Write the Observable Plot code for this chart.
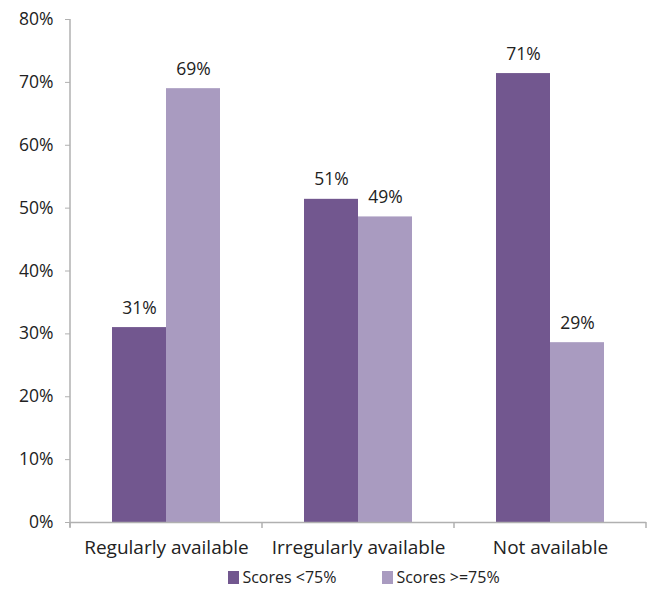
<!DOCTYPE html>
<html>
<head>
<meta charset="utf-8">
<script src="https://cdn.jsdelivr.net/npm/d3@7"></script>
<script src="https://cdn.jsdelivr.net/npm/@observablehq/plot@0.6"></script>
<style>
  body { margin: 0; background: #fff; font-family: "Open Sans", Lato, sans-serif; }
  #wrap { width: 648px; height: 592px; position: relative; }
  #legend { display: flex; justify-content: center; gap: 46px; font-size: 16px; color: #222; margin-left: 80px; margin-top: 4px; }
  #legend span.sw { display: inline-block; width: 11px; height: 13px; margin-right: 3px; vertical-align: -1px; }
</style>
</head>
<body>
<div id="wrap">
  <div id="chart"></div>
  <div id="legend"></div>
</div>
<script>
const categories = ["Regularly available", "Irregularly available", "Not available"];
const seriesNames = ["Scores <75%", "Scores >=75%"];
const seriesColors = ["#72578f", "#a99bc0"];
const lowScores = [31.0, 51.4, 71.4];
const highScores = [69.0, 48.6, 28.6];
const valueLabels = [["31%", "51%", "71%"], ["69%", "49%", "29%"]];
const yTicks = [0, 10, 20, 30, 40, 50, 60, 70, 80];

const rows = [];
categories.forEach((c, i) => {
  rows.push({category: c, series: seriesNames[0], value: lowScores[i], label: valueLabels[0][i]});
  rows.push({category: c, series: seriesNames[1], value: highScores[i], label: valueLabels[1][i]});
});

const axisColor = "#b0b0b0";
const chart = Plot.plot({
  width: 648,
  height: 562,
  marginLeft: 69,
  marginRight: 2,
  marginTop: 19,
  marginBottom: 40,
  style: {fontFamily: "'Open Sans', Lato, sans-serif", fontSize: "17.5px", color: "#222", background: "#fff"},
  fx: {domain: categories, padding: 0, label: null, axis: null},
  x: {domain: seriesNames, paddingInner: 0, paddingOuter: 0.75, axis: null},
  y: {domain: [0, 80], ticks: yTicks, tickFormat: d => d + "%", label: null, tickSize: 5, tickPadding: 12},
  color: {domain: seriesNames, range: seriesColors},
  marks: [
    Plot.axisFx({anchor: "bottom", tickSize: 0, tickPadding: 18, fontSize: 19, label: null}),
    Plot.barY(rows, {fx: "category", x: "series", y: "value", fill: "series", inset: 0}),
    Plot.text(rows, {fx: "category", x: "series", y: "value", text: "label", lineAnchor: "bottom", dy: -14, fill: "#222", fontSize: 17.5}),
    Plot.ruleY([0], {stroke: axisColor, strokeWidth: 1.5})
  ]
});

d3.select(chart).selectAll("g[aria-label='y-axis tick'] path, g[aria-label='y-axis tick'] line").attr("stroke", axisColor);

// y axis line and x category boundary ticks, positioned by the plot's scales
const fx = chart.scale("fx");
const ys = chart.scale("y");
const y0 = ys.apply(0);
const yTop = ys.apply(80);
const g = d3.select(chart).append("g").attr("stroke", axisColor).attr("stroke-width", 1.5);
const x0 = fx.apply(categories[0]);
g.append("line").attr("x1", x0).attr("x2", x0).attr("y1", yTop).attr("y2", y0 + 5);
const bounds = categories.map(c => fx.apply(c)).concat([fx.apply(categories[categories.length - 1]) + fx.bandwidth]);
bounds.forEach(b => {
  g.append("line").attr("x1", b).attr("x2", b).attr("y1", y0).attr("y2", y0 + 6);
});

document.getElementById("chart").appendChild(chart);

const legend = d3.select("#legend");
seriesNames.forEach((s, i) => {
  const item = legend.append("div");
  item.append("span").attr("class", "sw").style("background", seriesColors[i]);
  item.append("span").text(s);
});
</script>
</body>
</html>
